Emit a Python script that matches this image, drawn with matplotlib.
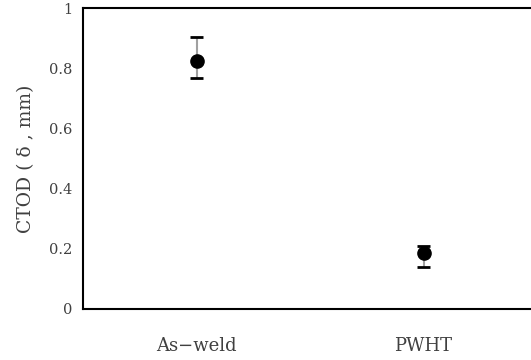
import numpy as np
import matplotlib.pyplot as plt

# values
categories = ["As\u2212weld", "PWHT"]
ctod_mean = [0.825, 0.185]
err_upper = [0.902, 0.210]
err_lower = [0.766, 0.141]

yticks = [0, 0.2, 0.4, 0.6, 0.8, 1]
ytick_labels = ["0", "0.2", "0.4", "0.6", "0.8", "1"]

plt.rcParams["font.family"] = ["DejaVu Serif"]

fig = plt.figure(figsize=(5.31, 3.6), dpi=100)
# axes runs past the right edge of the image, as in the reference
ax = fig.add_axes([83 / 531, 1 - 309 / 360, 454 / 531, 301 / 360])

x = np.arange(len(categories))
mean = np.array(ctod_mean)
yerr = [mean - np.array(err_lower), np.array(err_upper) - mean]

# gray stems, black caps
ax.errorbar(x, mean, yerr=yerr, fmt="none", ecolor="#a0a0a0", elinewidth=1.5,
            capsize=0, zorder=2)
ax.hlines(err_upper, x - 0.029, x + 0.029, color="black", linewidth=2, zorder=3)
ax.hlines(err_lower, x - 0.029, x + 0.029, color="black", linewidth=2, zorder=3)
ax.plot(x, mean, "o", color="black", markersize=9.5, zorder=4)

ax.set_xlim(-0.5, 1.5)
ax.set_ylim(0, 1)
ax.set_yticks(yticks)
ax.set_yticklabels(ytick_labels)
ax.set_xticks(x)
ax.set_xticklabels(categories)
ax.tick_params(length=0, colors="#404040")
ax.tick_params(axis="x", labelsize=13, pad=20)
ax.tick_params(axis="y", labelsize=10.5, pad=8)

for side in ["left", "bottom", "top", "right"]:
    ax.spines[side].set_linewidth(1.5)
    ax.spines[side].set_color("black")

ax.set_ylabel("CTOD ( \u03b4 , mm)", fontsize=13.5, color="#404040", labelpad=10)

fig.savefig("out.png", dpi=100)
